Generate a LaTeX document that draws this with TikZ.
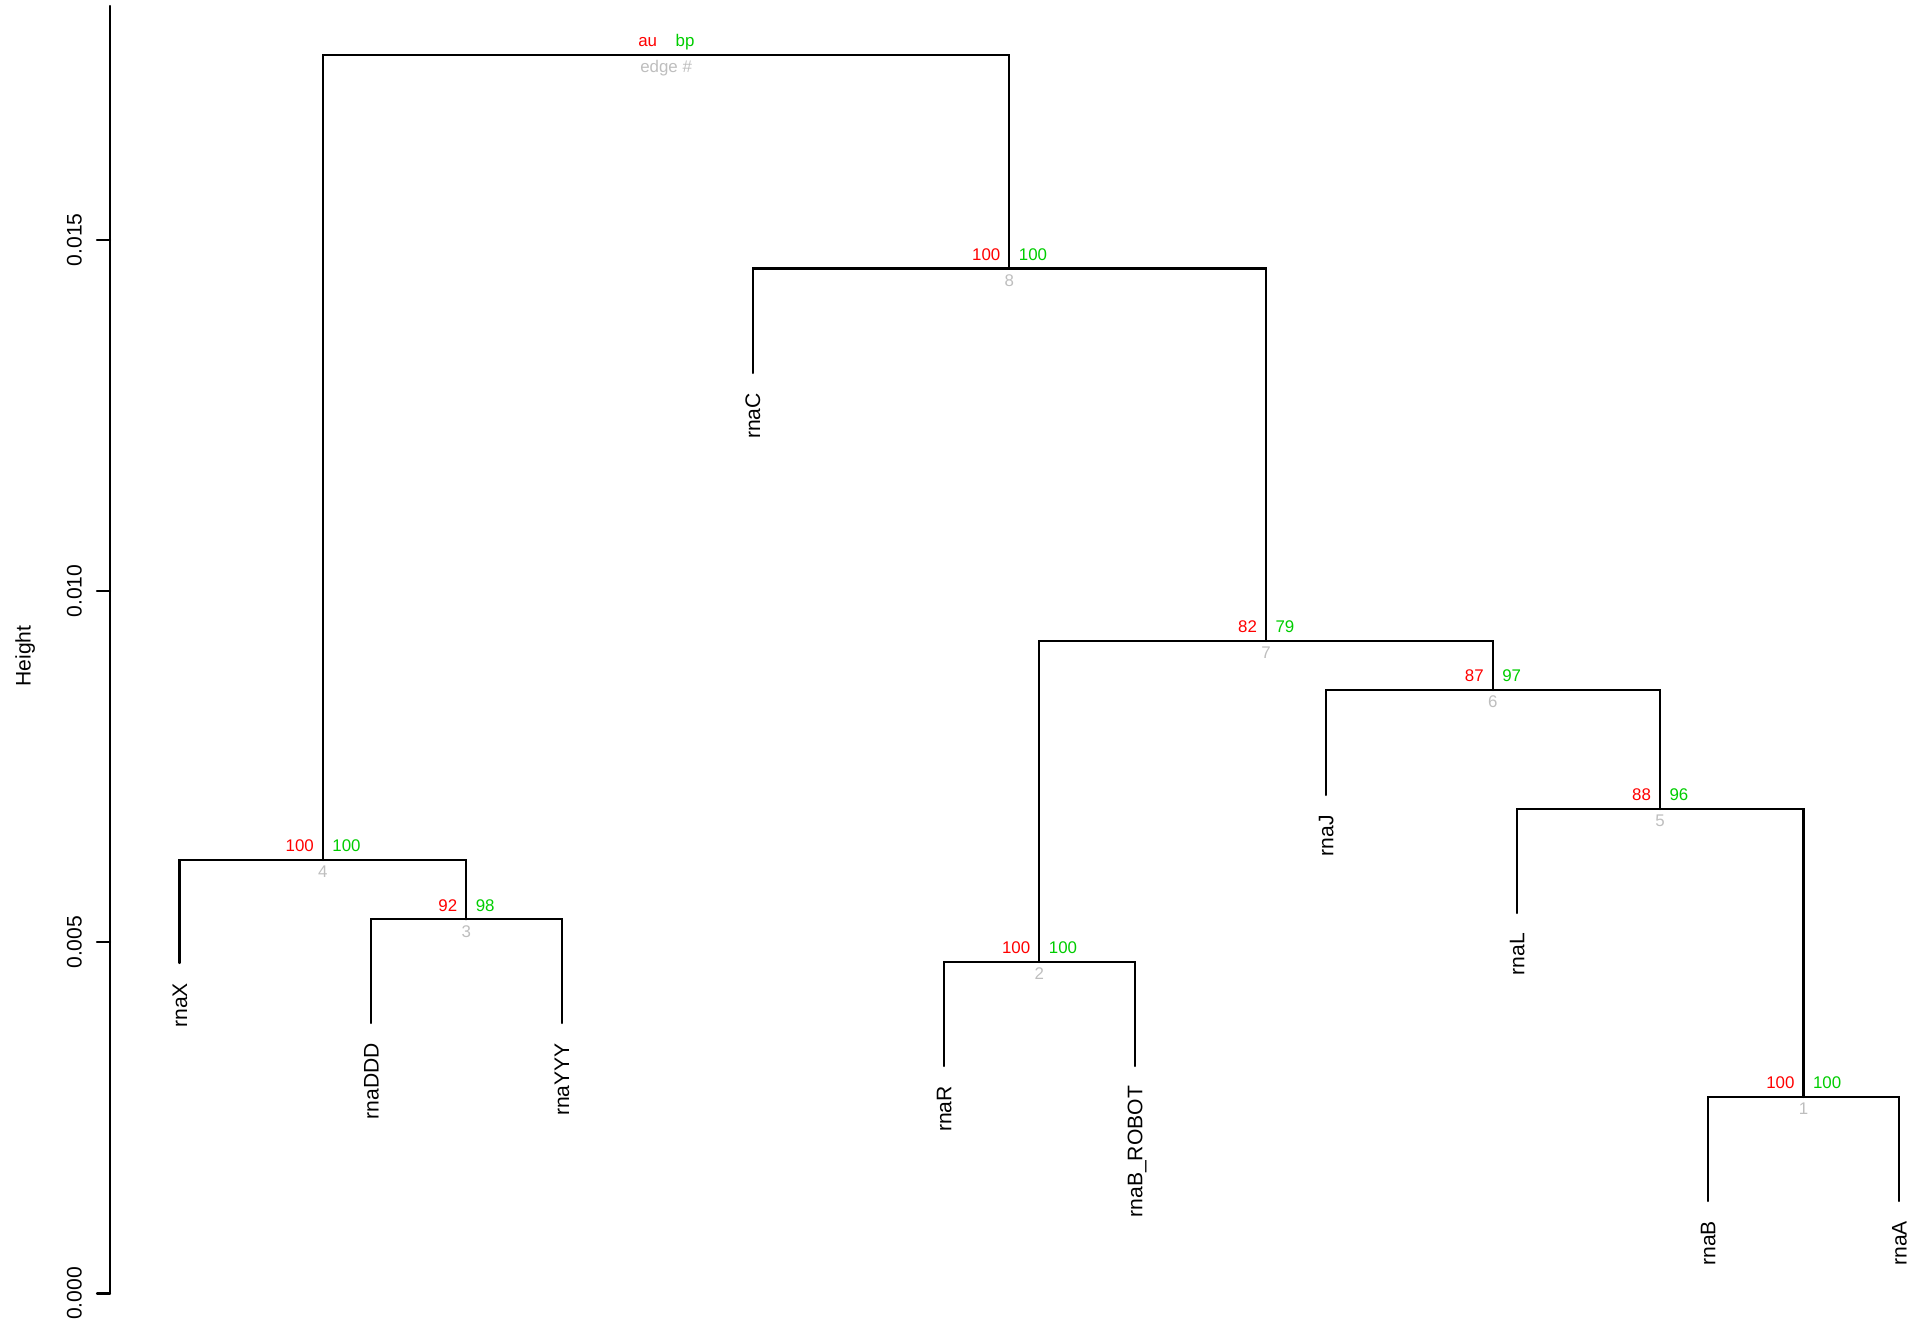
\documentclass[tikz,border=0pt]{standalone}
\usepackage{fontspec}
\setmainfont{Liberation Sans}
\definecolor{aured}{RGB}{255,0,0}
\definecolor{bpgreen}{RGB}{0,205,0}
\definecolor{edgegray}{RGB}{190,190,190}

\begin{document}
\begin{tikzpicture}[x = 0.01cm, y = -0.01cm, % one unit is one pixel, y runs down
                line width = 0.6pt, line cap = round % line style
            ]

            \tikzstyle{every node}=[font = \fontsize{6}{7}\selectfont,
            inner sep = 0pt]
            \tikzstyle{elbow}=[to path = {-| (\tikztotarget)}]
            \tikzstyle{leaf}=[rotate = 90, anchor = east, inner xsep = 0.19cm,
            text height = 4.3pt, text depth = 0pt]
            \tikzstyle{tick}=[rotate = 90, text height = 4.3pt, text depth = 0pt]
            \tikzstyle{au}=[text = aured, font = \fontsize{4.8}{5}\selectfont,
            anchor = base east, xshift = -0.08cm, yshift = 0.08cm]
            \tikzstyle{bp}=[text = bpgreen, font = \fontsize{4.8}{5}\selectfont,
            anchor = base west, xshift = 0.085cm, yshift = 0.08cm]
            \tikzstyle{edgenum}=[text = edgegray, font = \fontsize{4.8}{5}\selectfont,
            anchor = base, yshift = -0.177cm]

            \useasboundingbox (0,0) rectangle (1923,1331);

            % height axis
            \coordinate (ytop) at (110,6); \coordinate (t0) at (110,1293.5);
            \coordinate (t5) at (110,942.3); \coordinate (t10) at (110,591.1);
            \coordinate (t15) at (110,239.9);
            \draw (ytop) -- (t0);
            \draw (t0) -- ++(-13,0); \draw (t5) -- ++(-13,0);
            \draw (t10) -- ++(-13,0); \draw (t15) -- ++(-13,0);
            \node[tick] (lab0) at (74,1293.5) {0.000};
            \node[tick] (lab5) at (74,942.3) {0.005};
            \node[tick] (lab10) at (74,591.1) {0.010};
            \node[tick] (lab15) at (74,239.9) {0.015};
            \node[tick] (height) at (23,656) {Height};

            % merge points
            \coordinate (root) at (666.1,55); \coordinate (n8) at (1009.4,268.5);
            \coordinate (n7) at (1266,641); \coordinate (n6) at (1492.7,690);
            \coordinate (n5) at (1660,809); \coordinate (n4) at (322.9,860);
            \coordinate (n3) at (466.3,919.3); \coordinate (n2) at (1039.3,962);
            \coordinate (n1) at (1803.5,1097);

            % leaf ends
            \coordinate (lX) at (179.5,963); \coordinate (lDDD) at (371,1023);
            \coordinate (lYYY) at (561.6,1023); \coordinate (lC) at (752.6,373);
            \coordinate (lR) at (943.7,1066); \coordinate (lROBOT) at (1134.7,1066);
            \coordinate (lJ) at (1325.8,795); \coordinate (lL) at (1516.8,913);
            \coordinate (lB) at (1707.9,1201); \coordinate (lA) at (1899,1201);

            \node[leaf] (tX) at (lX) {rnaX}; \node[leaf] (tDDD) at (lDDD) {rnaDDD};
            \node[leaf] (tYYY) at (lYYY) {rnaYYY}; \node[leaf] (tC) at (lC) {rnaC};
            \node[leaf] (tR) at (lR) {rnaR}; \node[leaf] (tROBOT) at (lROBOT)
            {rnaB\_ROBOT}; \node[leaf] (tJ) at (lJ) {rnaJ};
            \node[leaf] (tL) at (lL) {rnaL}; \node[leaf] (tB) at (lB) {rnaB};
            \node[leaf] (tA) at (lA) {rnaA};

            \path[elbow] (root) edge (n4); \path[elbow] (root) edge (n8);
            \path[elbow] (n4) edge (lX); \path[elbow] (n4) edge (n3);
            \path[elbow] (n3) edge (lDDD); \path[elbow] (n3) edge (lYYY);
            \path[elbow] (n8) edge (lC); \path[elbow] (n8) edge (n7);
            \path[elbow] (n7) edge (n2); \path[elbow] (n7) edge (n6);
            \path[elbow] (n2) edge (lR); \path[elbow] (n2) edge (lROBOT);
            \path[elbow] (n6) edge (lJ); \path[elbow] (n6) edge (n5);
            \path[elbow] (n5) edge (lL); \path[elbow] (n5) edge (n1);
            \path[elbow] (n1) edge (lB); \path[elbow] (n1) edge (lA);

            % p-values
            \node[au] (auroot) at (root) {au}; \node[bp] (bproot) at (root) {bp};
            \node[edgenum] (eroot) at (root) {edge \#};
            \node[au] (au8) at (n8) {100}; \node[bp] (bp8) at (n8) {100};
            \node[edgenum] (e8) at (n8) {8};
            \node[au] (au7) at (n7) {82}; \node[bp] (bp7) at (n7) {79};
            \node[edgenum] (e7) at (n7) {7};
            \node[au] (au6) at (n6) {87}; \node[bp] (bp6) at (n6) {97};
            \node[edgenum] (e6) at (n6) {6};
            \node[au] (au5) at (n5) {88}; \node[bp] (bp5) at (n5) {96};
            \node[edgenum] (e5) at (n5) {5};
            \node[au] (au4) at (n4) {100}; \node[bp] (bp4) at (n4) {100};
            \node[edgenum] (e4) at (n4) {4};
            \node[au] (au3) at (n3) {92}; \node[bp] (bp3) at (n3) {98};
            \node[edgenum] (e3) at (n3) {3};
            \node[au] (au2) at (n2) {100}; \node[bp] (bp2) at (n2) {100};
            \node[edgenum] (e2) at (n2) {2};
            \node[au] (au1) at (n1) {100}; \node[bp] (bp1) at (n1) {100};
            \node[edgenum] (e1) at (n1) {1};
\end{tikzpicture}
\end{document}
